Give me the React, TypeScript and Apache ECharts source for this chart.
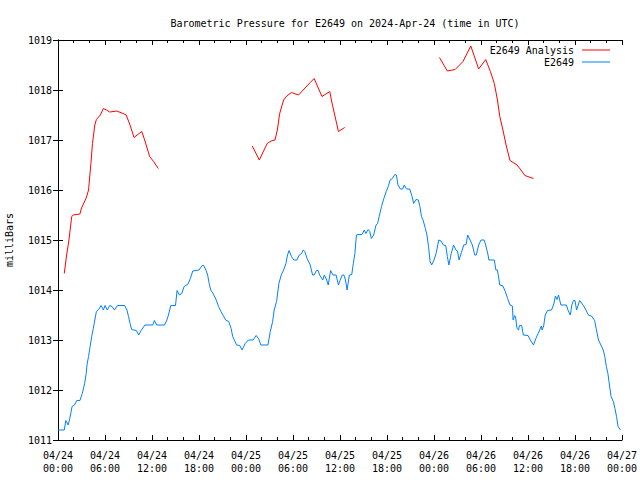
import React, { useEffect, useRef } from "react";
import * as echarts from "echarts";

// Hours since 2024-04-24 00:00 UTC, pressure in millibars
const analysisSeg1: [number, number][] = [
  [0.8, 1014.33], [1.1, 1014.7], [1.4, 1015.0], [1.75, 1015.47], [1.95, 1015.5],
  [2.8, 1015.52], [3.0, 1015.64], [3.6, 1015.84], [3.9, 1016.0], [4.2, 1016.53],
  [4.4, 1016.93], [4.7, 1017.3], [4.9, 1017.41], [5.4, 1017.5], [5.8, 1017.63],
  [6.2, 1017.6], [6.6, 1017.56], [7.5, 1017.58], [8.3, 1017.53], [8.7, 1017.5],
  [9.2, 1017.3], [9.7, 1017.05], [10.1, 1017.1], [10.7, 1017.17], [11.0, 1017.03],
  [11.7, 1016.67], [12.2, 1016.57], [12.8, 1016.43],
];
const analysisSeg2: [number, number][] = [
  [24.8, 1016.88], [25.7, 1016.6], [26.7, 1016.93], [27.2, 1016.98], [27.7, 1017.0],
  [28.0, 1017.2], [28.3, 1017.53], [28.8, 1017.8], [29.2, 1017.88], [29.8, 1017.95],
  [30.7, 1017.9], [32.2, 1018.15], [32.7, 1018.23], [33.7, 1017.87], [34.7, 1017.97],
  [34.9, 1017.8], [35.8, 1017.17], [36.6, 1017.25],
];
const analysisSeg3: [number, number][] = [
  [48.7, 1018.65], [49.7, 1018.38], [50.7, 1018.41], [51.7, 1018.57], [52.7, 1018.88],
  [53.7, 1018.42], [54.6, 1018.61], [55.2, 1018.37], [55.7, 1018.13], [56.1, 1017.8],
  [56.4, 1017.47], [56.8, 1017.2], [57.2, 1016.9], [57.7, 1016.59], [58.6, 1016.5],
  [59.1, 1016.4], [59.6, 1016.29], [60.7, 1016.23],
];
const observed: [number, number][] = [
  [0.0, 1011.2], [0.8, 1011.2], [1.0, 1011.39], [1.3, 1011.3], [1.5, 1011.43], [1.8, 1011.67],
  [2.1, 1011.7], [2.4, 1011.79], [2.8, 1011.79], [3.1, 1011.93], [3.4, 1012.13], [3.6, 1012.33],
  [3.7, 1012.5], [3.9, 1012.67], [4.1, 1012.87], [4.3, 1013.07], [4.5, 1013.23], [4.7, 1013.4],
  [4.9, 1013.57], [5.2, 1013.61], [5.5, 1013.69], [5.8, 1013.6], [6.0, 1013.69], [6.3, 1013.6],
  [6.6, 1013.69], [6.9, 1013.67], [7.2, 1013.6], [7.6, 1013.69], [8.5, 1013.69], [8.8, 1013.6],
  [9.0, 1013.47], [9.2, 1013.33], [9.4, 1013.21], [10.0, 1013.19], [10.3, 1013.1], [10.6, 1013.19],
  [11.1, 1013.3], [12.1, 1013.3], [12.3, 1013.39], [12.6, 1013.3], [13.6, 1013.3], [13.9, 1013.4],
  [14.1, 1013.5], [14.4, 1013.69], [15.0, 1013.69], [15.2, 1013.99], [15.5, 1013.9], [15.8, 1013.93],
  [16.1, 1014.07], [16.6, 1014.12], [16.9, 1014.23], [17.2, 1014.38], [18.0, 1014.4], [18.4, 1014.49],
  [18.6, 1014.49], [18.9, 1014.39], [19.1, 1014.3], [19.3, 1014.13], [19.5, 1014.0], [19.8, 1013.93],
  [20.2, 1013.8], [20.5, 1013.67], [20.8, 1013.57], [21.1, 1013.49], [21.4, 1013.4], [21.8, 1013.37],
  [22.1, 1013.23], [22.3, 1013.07], [22.6, 1012.97], [22.8, 1012.9], [23.2, 1012.89], [23.5, 1012.8],
  [23.9, 1012.93], [24.3, 1013.0], [24.9, 1013.0], [25.3, 1013.09], [25.6, 1013.03], [25.9, 1012.9],
  [26.8, 1012.9], [27.1, 1013.17], [27.4, 1013.37], [27.6, 1013.6], [27.9, 1013.77], [28.2, 1014.13],
  [28.5, 1014.3], [28.8, 1014.4], [29.1, 1014.53], [29.3, 1014.7], [29.5, 1014.79], [29.8, 1014.67],
  [30.1, 1014.6], [30.5, 1014.6], [30.8, 1014.7], [31.1, 1014.73], [31.3, 1014.8], [31.5, 1014.77],
  [31.8, 1014.63], [32.2, 1014.5], [32.5, 1014.3], [32.7, 1014.3], [33.0, 1014.39], [33.2, 1014.39],
  [33.4, 1014.3], [33.8, 1014.2], [34.0, 1014.3], [34.3, 1014.2], [34.5, 1014.1], [34.8, 1014.39],
  [35.1, 1014.3], [35.5, 1014.3], [35.8, 1014.1], [36.0, 1014.19], [36.3, 1014.3], [36.5, 1014.3],
  [36.7, 1014.2], [36.9, 1014.0], [37.2, 1014.3], [37.5, 1014.31], [37.7, 1014.53], [37.9, 1014.73],
  [38.1, 1015.1], [38.3, 1015.11], [38.8, 1015.11], [39.1, 1015.2], [39.3, 1015.13], [39.6, 1015.21],
  [39.8, 1015.17], [40.0, 1015.03], [40.3, 1015.1], [40.6, 1015.3], [40.8, 1015.33], [41.0, 1015.47],
  [41.3, 1015.67], [41.6, 1015.83], [41.9, 1015.97], [42.2, 1016.09], [42.4, 1016.2], [42.7, 1016.23],
  [43.0, 1016.31], [43.2, 1016.3], [43.4, 1016.1], [43.7, 1016.02], [44.0, 1016.02], [44.2, 1016.1],
  [44.5, 1016.02], [44.9, 1016.02], [45.2, 1015.87], [45.4, 1015.73], [45.7, 1015.81], [46.0, 1015.8],
  [46.2, 1015.67], [46.4, 1015.47], [46.6, 1015.4], [46.9, 1015.23], [47.1, 1015.1], [47.3, 1014.87],
  [47.5, 1014.57], [47.7, 1014.5], [48.0, 1014.6], [48.3, 1014.75], [48.6, 1015.0], [48.9, 1014.98],
  [49.2, 1014.9], [49.5, 1014.89], [49.7, 1014.67], [49.9, 1014.5], [50.2, 1014.73], [50.5, 1014.9],
  [50.8, 1014.8], [51.0, 1014.78], [51.2, 1014.6], [51.5, 1014.75], [51.8, 1014.9], [52.1, 1014.91],
  [52.3, 1015.1], [52.6, 1015.0], [52.9, 1014.9], [53.2, 1014.7], [53.4, 1014.7], [53.7, 1014.9],
  [54.0, 1015.0], [54.4, 1015.0], [54.6, 1014.9], [54.9, 1014.7], [55.0, 1014.6], [55.7, 1014.6],
  [55.9, 1014.4], [56.1, 1014.4], [56.4, 1014.1], [56.8, 1014.08], [57.1, 1013.97], [57.4, 1013.83],
  [57.7, 1013.7], [58.0, 1013.68], [58.1, 1013.4], [58.3, 1013.49], [58.4, 1013.47], [58.6, 1013.23],
  [58.8, 1013.2], [58.9, 1013.29], [59.2, 1013.29], [59.4, 1013.1], [60.0, 1013.09], [60.3, 1013.0],
  [60.7, 1012.9], [61.0, 1013.03], [61.3, 1013.13], [61.7, 1013.28], [61.8, 1013.2], [62.0, 1013.28],
  [62.2, 1013.5], [62.5, 1013.59], [63.0, 1013.6], [63.3, 1013.72], [63.5, 1013.88], [63.7, 1013.81],
  [63.9, 1013.9], [64.2, 1013.7], [64.9, 1013.7], [65.1, 1013.6], [65.4, 1013.5], [65.6, 1013.7],
  [65.8, 1013.79], [66.0, 1013.79], [66.2, 1013.6], [66.6, 1013.79], [67.1, 1013.68], [67.4, 1013.6],
  [67.7, 1013.5], [68.1, 1013.48], [68.5, 1013.39], [68.7, 1013.23], [69.0, 1013.0], [69.3, 1012.9],
  [69.6, 1012.8], [69.8, 1012.67], [70.0, 1012.47], [70.2, 1012.33], [70.4, 1012.1], [70.6, 1011.87],
  [70.9, 1011.77], [71.1, 1011.63], [71.3, 1011.47], [71.5, 1011.27], [71.8, 1011.2],
];

const dayLabels = ["04/24", "04/25", "04/26", "04/27"];
const titleText = "Barometric Pressure for E2649 on 2024-Apr-24 (time in UTC)";
const analysisName = "E2649 Analysis";
const observedName = "E2649";

const FONT = "DejaVu Sans Mono";

export default function App() {
  const ref = useRef<HTMLDivElement>(null);
  useEffect(() => {
    if (!ref.current) return;
    const chart = echarts.init(ref.current, undefined, { renderer: "svg" });
    const axisLine = { show: true, lineStyle: { color: "#000", width: 1 } };
    const xCommon = {
      type: "value" as const,
      min: 0,
      max: 72,
      interval: 6,
      axisLine,
      axisTick: { show: true, inside: true, length: 5, lineStyle: { color: "#000" } },
      minorTick: { show: true, splitNumber: 3, length: 3, lineStyle: { color: "#000" } },
      splitLine: { show: false },
    };
    const yCommon = {
      type: "value" as const,
      min: 1011,
      max: 1019,
      interval: 1,
      axisLine,
      axisTick: { show: true, inside: true, length: 5, lineStyle: { color: "#000" } },
      splitLine: { show: false },
    };
    const redStyle = { color: "#ff0000", width: 1 };
    const mkRed = (d: [number, number][]) => ({
      name: analysisName,
      type: "line",
      data: d,
      symbol: "none",
      lineStyle: redStyle,
      itemStyle: { color: "#ff0000" },
      xAxisIndex: 0,
      yAxisIndex: 0,
    });
    chart.setOption({
      animation: false,
      backgroundColor: "#fff",
      title: {
        text: titleText,
        left: 340,
        textAlign: "center",
        top: 13,
        textStyle: { fontFamily: FONT, fontSize: 10, fontWeight: "normal", color: "#000" },
      },
      legend: {
        data: [
          { name: analysisName, icon: "rect" },
          { name: observedName, icon: "rect" },
        ],
        orient: "vertical",
        align: "right",
        right: 25,
        top: 39,
        itemWidth: 28,
        itemHeight: 1,
        itemGap: 0,
        textStyle: { fontFamily: FONT, fontSize: 10, color: "#000", padding: [0, 3, 0, 0], lineHeight: 12 },
      },
      grid: { left: 58, right: 18, top: 40, bottom: 40, containLabel: false, outerBoundsMode: "none" },
      xAxis: [
        {
          ...xCommon,
          position: "bottom",
          axisLabel: {
            fontFamily: FONT,
            fontSize: 10,
            color: "#000",
            margin: 9,
            lineHeight: 13,
            formatter: (v: number) => {
              const d = Math.floor(v / 24);
              const h = v - d * 24;
              return `${dayLabels[d]}\n${String(h).padStart(2, "0")}:00`;
            },
          },
        },
        { ...xCommon, position: "top", axisLabel: { show: false } },
      ],
      yAxis: [
        {
          ...yCommon,
          position: "left",
          name: "milliBars",
          nameLocation: "middle",
          nameRotate: 90,
          nameGap: 44,
          nameTextStyle: { fontFamily: FONT, fontSize: 10, color: "#000" },
          axisLabel: {
            fontFamily: FONT,
            fontSize: 10,
            color: "#000",
            margin: 6,
            formatter: (v: number) => String(v),
          },
        },
        { ...yCommon, position: "right", axisLabel: { show: false } },
      ],
      series: [
        mkRed(analysisSeg1),
        mkRed(analysisSeg2),
        mkRed(analysisSeg3),
        {
          name: observedName,
          type: "line",
          data: observed,
          symbol: "none",
          lineStyle: { color: "#0080ff", width: 1 },
          itemStyle: { color: "#0080ff" },
          xAxisIndex: 0,
          yAxisIndex: 0,
        },
      ],
    });
    return () => chart.dispose();
  }, []);
  return <div ref={ref} style={{ width: 640, height: 480, position: "absolute", left: 0, top: 0 }} />;
}
